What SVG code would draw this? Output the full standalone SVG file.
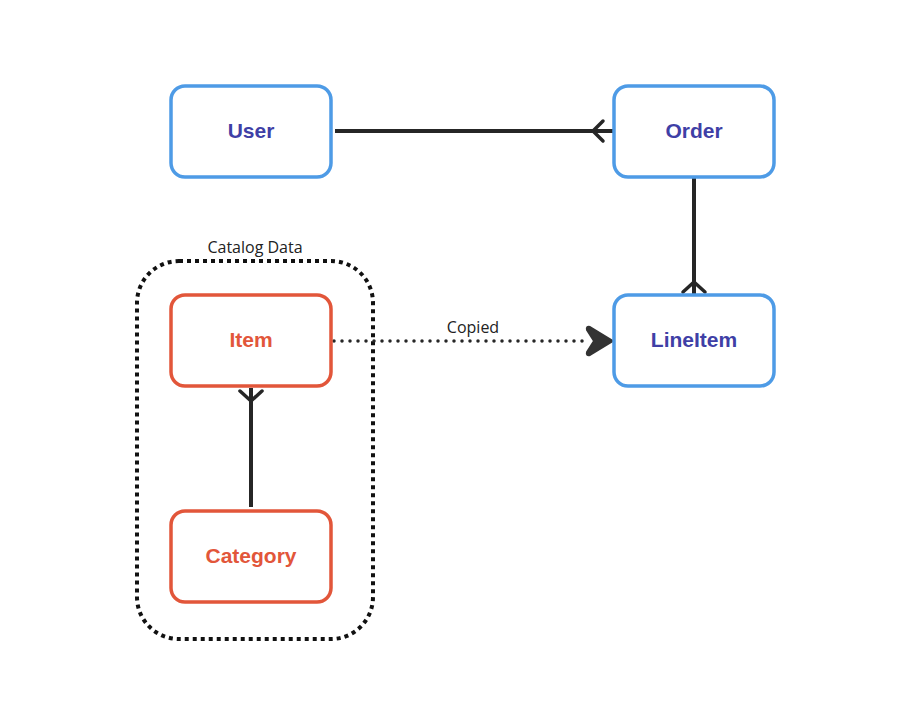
<svg xmlns="http://www.w3.org/2000/svg" width="920" height="714" viewBox="0 0 920 714">
<style>
.bg{fill:#ffffff}
.blue rect{fill:#ffffff;stroke:#4e9be6;stroke-width:3.5}
.red rect{fill:#ffffff;stroke:#e2563a;stroke-width:3.5}
.blue text{fill:#3f3fa6;font-family:"Liberation Sans",Arial,sans-serif;font-weight:bold;font-size:21px;text-anchor:middle}
.red text{fill:#e2563a;font-family:"Liberation Sans",Arial,sans-serif;font-weight:bold;font-size:21px;text-anchor:middle}
.edge{stroke:#262626;stroke-width:4;fill:none}
.foot{stroke:#262626;stroke-width:3.5;fill:none;stroke-linecap:round;stroke-linejoin:round}
.dots{stroke:#262626;stroke-width:3.5;fill:none;stroke-dasharray:0 8;stroke-linecap:round}
.lbl{fill:#222222;font-family:"Open Sans",sans-serif;font-size:16px;text-anchor:middle}
.group{fill:none;stroke:#111111;stroke-width:4;stroke-dasharray:4 4}
</style>
<rect class="bg" x="0" y="0" width="920" height="714"/>
<g id="catalog-group">
  <rect class="group" x="137" y="261" width="236" height="378" rx="42" ry="42"/>
  <text class="lbl" x="255" y="253">Catalog Data</text>
</g>
<g id="connectors">
  <path class="edge" d="M335 131 H613"/>
  <path class="foot" d="M603 121 L593 131 L603 141"/>
  <path class="edge" d="M694 178 V294"/>
  <path class="foot" d="M683 292 L694 282 L705 292"/>
  <path class="edge" d="M251 388 V507"/>
  <path class="foot" d="M240 391 L251 401 L262 391"/>
  <path class="dots" d="M334 341 H588"/>
  <path d="M613 341 L590 327 Q586 326 587 330 L594 341 L587 352 Q586 356 590 355 Z" fill="#333333" stroke="#333333" stroke-width="2" stroke-linejoin="round"/>
  <text class="lbl" x="473" y="333">Copied</text>
</g>
<g id="user" class="blue">
  <rect x="171" y="86" width="160" height="91" rx="14" ry="14"/>
  <text x="251" y="138">User</text>
</g>
<g id="order" class="blue">
  <rect x="614" y="86" width="160" height="91" rx="14" ry="14"/>
  <text x="694" y="138">Order</text>
</g>
<g id="lineitem" class="blue">
  <rect x="614" y="295" width="160" height="91" rx="14" ry="14"/>
  <text x="694" y="347">LineItem</text>
</g>
<g id="item" class="red">
  <rect x="171" y="295" width="160" height="91" rx="14" ry="14"/>
  <text x="251" y="347">Item</text>
</g>
<g id="category" class="red">
  <rect x="171" y="511" width="160" height="91" rx="14" ry="14"/>
  <text x="251" y="563">Category</text>
</g>
</svg>
